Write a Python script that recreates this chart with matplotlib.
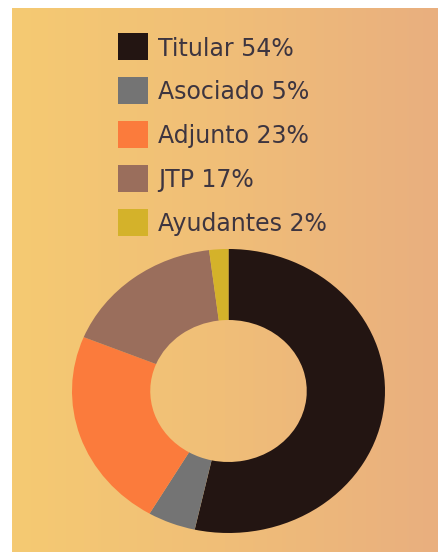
import matplotlib.pyplot as plt
from matplotlib.colors import LinearSegmentedColormap
from matplotlib.patches import Rectangle
import numpy as np

# chart data
categories = ['Titular', 'Asociado', 'Adjunto', 'JTP', 'Ayudantes']
shares = [54, 5, 23, 17, 2]
colors = ['#231512', '#747474', '#FB7B3C', '#9A6E5C', '#D4B22A']

W, H = 438, 552
fig = plt.figure(figsize=(W / 100, H / 100), dpi=100)
fig.patch.set_facecolor('white')

# gradient background panel (white strip left and top)
bg = fig.add_axes([12 / W, 0, 1 - 12 / W, 1 - 8 / H])
bg.set_axis_off()
cmap = LinearSegmentedColormap.from_list('bg', ['#F5CA72', '#F0BE78', '#E9AF7F'])
bg.imshow(np.linspace(0, 1, 256).reshape(1, -1), cmap=cmap, aspect='auto',
          extent=[0, 1, 0, 1], interpolation='bilinear')

# donut (slightly squashed vertically like the original)
ax = fig.add_axes([72 / W, 19 / H, 313 / W, 284 / H])
ax.patch.set_alpha(0)
wedges, _ = ax.pie(shares, colors=colors, startangle=90, counterclock=False,
                   radius=1, wedgeprops=dict(width=0.5, linewidth=0))
ax.set_aspect('auto')
ax.set_xlim(-1, 1)
ax.set_ylim(-1, 1)
ax.set_axis_off()

# legend drawn by hand, positions in pixels from top-left
row0, step = 46, 44
for i, (cat, val, col) in enumerate(zip(categories, shares, colors)):
    yc = H - (row0 + step * i)
    fig.patches.append(Rectangle((118 / W, (yc - 13.5) / H), 30 / W, 27 / H,
                                 transform=fig.transFigure, facecolor=col,
                                 edgecolor='none', figure=fig))
    fig.text(158 / W, yc / H, f'{cat} {val}%', fontsize=17, color='#3d3540',
             va='center_baseline', ha='left')

fig.savefig('out.png', dpi=100)
